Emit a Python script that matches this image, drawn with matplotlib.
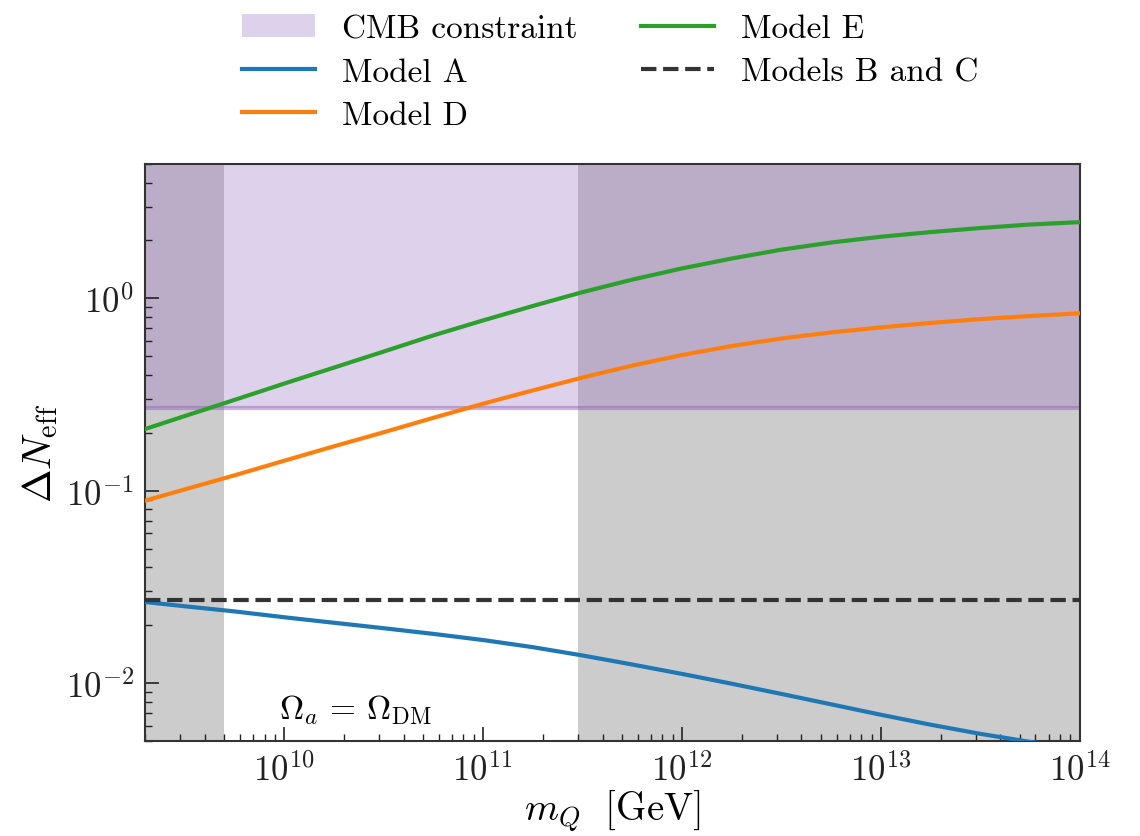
import matplotlib
matplotlib.use("Agg")
import matplotlib.pyplot as plt
import matplotlib.ticker as mticker
import numpy as np

# --- data ---------------------------------------------------------------
m_Q = [2e9, 3.16e9, 5.62e9, 1e10, 1.78e10, 3.16e10, 5.62e10, 1e11, 1.78e11,
       3.16e11, 5.62e11, 1e12, 1.78e12, 3.16e12, 5.62e12, 1e13, 1.78e13,
       3.16e13, 5.62e13, 1e14]  # GeV

dneff_A = [0.0264, 0.0251, 0.0236, 0.0220, 0.0206, 0.0193, 0.01803, 0.01675, 0.01538,
           0.01393, 0.0125, 0.01117, 0.00993, 0.00879, 0.00776, 0.00685, 0.00608,
           0.00545, 0.00495, 0.00457]
dneff_D = [0.0887, 0.1014, 0.120, 0.143, 0.170, 0.201, 0.239, 0.283, 0.332,
           0.387, 0.447, 0.507, 0.565, 0.618, 0.665, 0.706, 0.745,
           0.780, 0.809, 0.836]
dneff_E = [0.209, 0.244, 0.296, 0.360, 0.436, 0.528, 0.641, 0.767, 0.912,
           1.076, 1.25, 1.43, 1.61, 1.79, 1.95, 2.09, 2.21,
           2.32, 2.42, 2.49]
dneff_BC = 0.027          # Models B and C, independent of m_Q
cmb_limit = 0.27          # CMB upper bound on Delta N_eff

excluded_low = 5e9        # grey band below this mass
excluded_high = 3e11      # grey band above this mass

# --- style --------------------------------------------------------------
plt.rcParams['font.family'] = ['cmr10']
plt.rcParams['mathtext.fontset'] = 'cm'
plt.rcParams['axes.unicode_minus'] = False

fig = plt.figure(figsize=(11.4, 8.37), dpi=100)
ax = fig.add_axes([0.127, 0.1135, 0.82, 0.6895])

xmin, xmax = 2e9, 1e14
ymin, ymax = 5e-3, 5.0

ax.axvspan(xmin, excluded_low, color='0.8', lw=0, zorder=0)
ax.axvspan(excluded_high, xmax, color='0.8', lw=0, zorder=0)

ax.axhspan(cmb_limit, ymax, color='tab:purple', alpha=0.3, lw=0, zorder=1,
           label='CMB constraint')
ax.axhline(cmb_limit, color='tab:purple', alpha=0.5, lw=3, zorder=1)

ax.plot(m_Q, dneff_A, color='tab:blue', lw=3, label='Model A', zorder=3)
ax.plot(m_Q, dneff_D, color='tab:orange', lw=3, label='Model D', zorder=3)
ax.plot(m_Q, dneff_E, color='tab:green', lw=3, label='Model E', zorder=3)
ax.axhline(dneff_BC, color='#333333', lw=3, ls='--', label='Models B and C', zorder=3)

ax.set_xscale('log')
ax.set_yscale('log')
ax.set_xlim(xmin, xmax)
ax.set_ylim(ymin, ymax)

fmt = mticker.FuncFormatter(lambda v, pos: r'$10^{%d}$' % round(np.log10(v)))
ax.xaxis.set_major_formatter(fmt)
ax.yaxis.set_major_formatter(fmt)
ax.xaxis.set_minor_formatter(mticker.NullFormatter())
ax.yaxis.set_minor_formatter(mticker.NullFormatter())
ax.yaxis.set_major_locator(mticker.LogLocator(base=10, numticks=10))

ax.tick_params(which='both', direction='in', top=False, right=False,
               labelsize=25, colors='#222222')
ax.tick_params(which='major', length=10, width=1.2, pad=8)
ax.tick_params(which='minor', length=5, width=1.0)
for s in ax.spines.values():
    s.set_linewidth(1.5)
    s.set_color('#333333')

ax.set_xlabel(r'$m_Q\ \ [{\rm GeV}]$', fontsize=28, labelpad=0)
ax.set_ylabel(r'$\Delta N_{\rm eff}$', fontsize=29, labelpad=4)

ax.text(0.226, 0.055, r'$\Omega_a\,=\,\Omega_{\rm DM}$', transform=ax.transAxes,
        fontsize=24, ha='center', va='center', zorder=4)

handles, labels = ax.get_legend_handles_labels()
fig.legend(handles, labels, loc='upper center', bbox_to_anchor=(0.535, 1.018),
           ncol=2, frameon=False, fontsize=24, columnspacing=1.9,
           handlelength=2.2, labelspacing=0.42, handletextpad=0.8)

fig.savefig('out.png', dpi=100)
